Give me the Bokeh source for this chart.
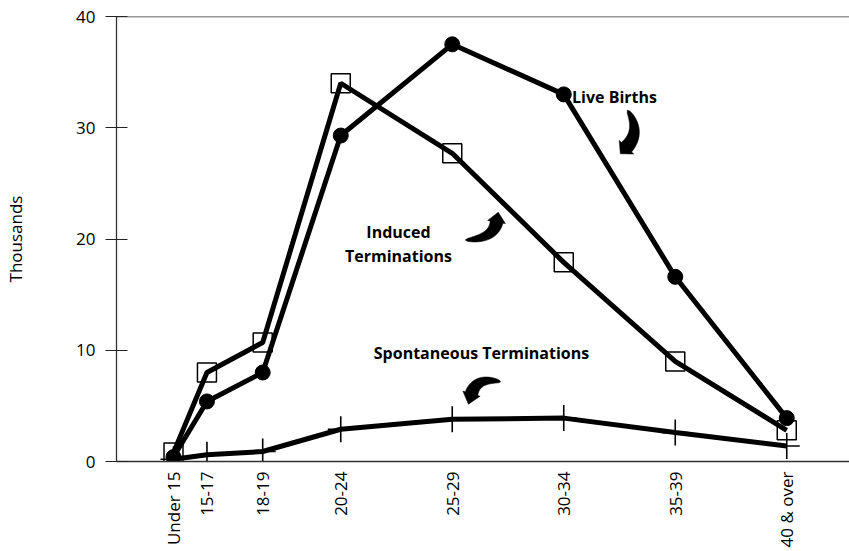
import numpy as np
from bokeh.plotting import figure
from bokeh.models import FixedTicker, Span, Range1d, Label
from bokeh.embed import file_html
from bokeh.resources import INLINE

# ---- data -------------------------------------------------------------
age_groups = ["Under 15", "15-17", "18-19", "20-24", "25-29", "30-34", "35-39", "40 & over"]
age_pos = [14.5, 16, 18.5, 22, 27, 32, 37, 42]          # mid-age of each group
live_births = [0.4, 5.4, 8.0, 29.3, 37.5, 33.0, 16.6, 3.9]
induced = [0.8, 8.0, 10.7, 34.0, 27.7, 17.9, 9.0, 2.8]
spontaneous = [0.2, 0.6, 0.9, 2.9, 3.8, 3.9, 2.6, 1.4]
y_ticks = [0, 10, 20, 30, 40]

FONT = "Open Sans"

# ---- geometry ---------------------------------------------------------
W, H = 849, 550
FL, FT = 116, 16          # frame left / top on the page
FW, FH = W - FL, 446
X0 = 14.5 - 57 / 22.3
X1 = X0 + FW / 22.3
Y0, Y1 = 0, 40
sx = FW / (X1 - X0)
sy = FH / (Y1 - Y0)

p = figure(width=W, height=H, output_backend="svg", toolbar_location=None,
           x_range=Range1d(X0, X1), y_range=Range1d(Y0, Y1),
           min_border_left=FL, min_border_right=0,
           min_border_top=FT, min_border_bottom=H - FT - FH)
p.outline_line_color = None
p.grid.visible = False
p.background_fill_color = "white"
p.border_fill_color = "white"

# y axis
ya = p.yaxis[0]
ya.ticker = FixedTicker(ticks=y_ticks)
ya.minor_tick_line_color = None
ya.major_tick_in = 11
ya.major_tick_out = 11
ya.major_tick_line_color = "#222222"
ya.axis_line_color = "#333333"
ya.axis_line_width = 1.3
ya.major_label_text_font = FONT
ya.major_label_text_font_size = "17px"
ya.major_label_text_color = "black"
ya.major_label_standoff = 10
ya.axis_label = "Thousands"
ya.axis_label_text_font = FONT
ya.axis_label_text_font_size = "17px"
ya.axis_label_text_font_style = "normal"
ya.axis_label_text_color = "black"
ya.axis_label_standoff = 46

# x axis with vertical category labels
xa = p.xaxis[0]
xa.ticker = FixedTicker(ticks=age_pos)
xa.major_label_overrides = {v: lab for v, lab in zip(age_pos, age_groups)}
xa.major_label_orientation = np.pi / 2
xa.major_label_text_font = FONT
xa.major_label_text_font_size = "17px"
xa.major_label_text_color = "black"
xa.major_label_standoff = 10
xa.major_tick_in = 0
xa.major_tick_out = 0
xa.minor_tick_line_color = None
xa.axis_line_color = "#333333"
xa.axis_line_width = 1.3

# top border
p.add_layout(Span(location=Y1, dimension="width", line_color="#333333", line_width=1.3))

# ---- series -----------------------------------------------------------
p.line(age_pos, spontaneous, line_color="black", line_width=5)
p.scatter(age_pos, spontaneous, marker="cross", size=26, line_color="black", line_width=1.6)

p.line(age_pos, induced, line_color="black", line_width=5)
p.scatter(age_pos, induced, marker="square", size=19, line_color="black",
          line_width=1.5, fill_alpha=0)

p.line(age_pos, live_births, line_color="black", line_width=5)
p.scatter(age_pos, live_births, marker="circle", size=15, line_color="black",
          fill_color="black")

# ---- annotations ------------------------------------------------------
def to_data(px, py):
    return X0 + (px - FL) / sx, Y0 + ((FT + FH) - py) / sy

def curved_arrow(tail, ctrl, base, hl, hw, wmax):
    t = np.linspace(0, 1, 30)
    P0, P1, P2 = (np.array(v, float) for v in (tail, ctrl, base))
    pts = ((1 - t)[:, None] ** 2) * P0 + (2 * (1 - t) * t)[:, None] * P1 + (t[:, None] ** 2) * P2
    der = (2 * (1 - t))[:, None] * (P1 - P0) + (2 * t)[:, None] * (P2 - P1)
    der /= np.linalg.norm(der, axis=1)[:, None]
    nrm = np.stack([-der[:, 1], der[:, 0]], axis=1)
    w = 0.5 + (wmax - 0.5) * np.sqrt(t)
    left = pts + nrm * (w[:, None] / 2)
    right = pts - nrm * (w[:, None] / 2)
    d = der[-1]
    n = nrm[-1]
    tip = P2 + d * hl
    hl_pt = P2 + n * hw
    hr_pt = P2 - n * hw
    poly = np.vstack([left, hl_pt[None], tip[None], hr_pt[None], right[::-1]])
    xs, ys = zip(*[to_data(a, b) for a, b in poly])
    p.patch(list(xs), list(ys), fill_color="black", line_color="black", line_width=0.5)

curved_arrow((627, 110), (641, 131), (626, 147), 9, 10, 14)
curved_arrow((465, 240), (493, 239), (496, 222), 10, 9, 13)
curved_arrow((500, 382), (476, 377), (471, 394), 11, 9, 13)

for txt, (px, py) in [("Live Births", (614, 97)), ("Induced", (398, 232)),
                      ("Terminations", (398, 256)), ("Spontaneous Terminations", (481, 353))]:
    x, y = to_data(px, py)
    p.add_layout(Label(x=x, y=y, text=txt, text_align="center", text_baseline="middle",
                       text_font=FONT, text_font_size="16px", text_font_style="bold",
                       text_color="black"))

open("out.html", "w").write(file_html(p, INLINE))
